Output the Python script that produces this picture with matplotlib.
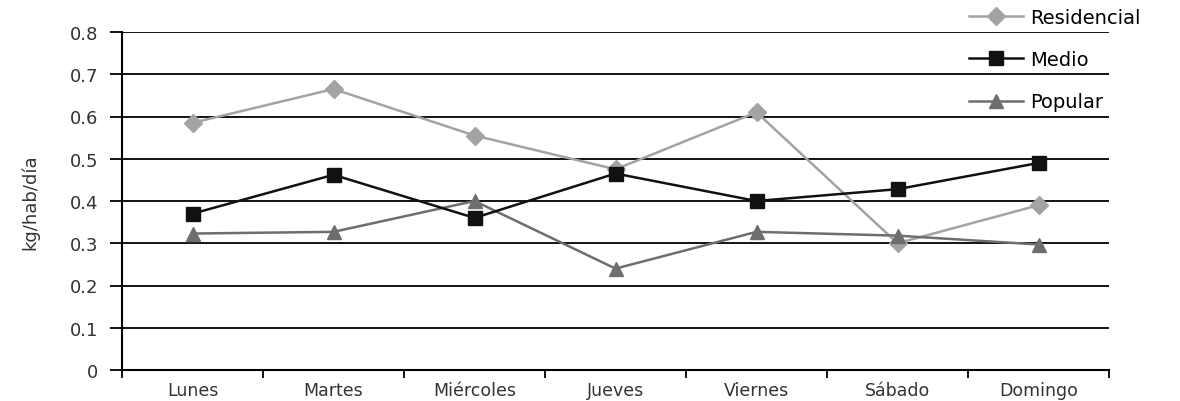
# Generación de residuos por día y estrato
import numpy as np
import matplotlib
matplotlib.use('Agg')
import matplotlib.pyplot as plt
from matplotlib.ticker import FixedLocator, NullFormatter

# datos
dias = ['Lunes', 'Martes', 'Miércoles', 'Jueves', 'Viernes', 'Sábado', 'Domingo']
residencial = [0.585, 0.665, 0.555, 0.475, 0.61, 0.30, 0.39]
medio = [0.37, 0.462, 0.36, 0.465, 0.40, 0.428, 0.49]
popular = [0.323, 0.327, 0.40, 0.24, 0.327, 0.318, 0.297]
yticks = [0, 0.1, 0.2, 0.3, 0.4, 0.5, 0.6, 0.7, 0.8]

plt.rcParams['font.family'] = ['DejaVu Sans']

fig = plt.figure(figsize=(11.8, 4.02), dpi=100)
ax = fig.add_axes([122/1180, 1-371/402, (1109-122)/1180, (371-33)/402])

x = np.arange(len(dias))
ax.plot(x, residencial, color='#a3a3a3', lw=1.8, marker='D', ms=9,
        label='Residencial', zorder=3)
ax.plot(x, medio, color='#111111', lw=1.8, marker='s', ms=10,
        label='Medio', zorder=4)
ax.plot(x, popular, color='#6e6e6e', lw=1.8, marker='^', ms=10,
        label='Popular', zorder=3)

ax.set_xlim(-0.5, len(dias) - 0.5)
ax.set_ylim(0, 0.8)

# lineas horizontales
for v in yticks[1:]:
    ax.axhline(v, color='black', lw=1.3, zorder=1)

ax.set_yticks(yticks)
ax.set_yticklabels([('%g' % v) for v in yticks], fontsize=13, color='#333333')
ax.tick_params(axis='y', length=9, width=1.3, direction='out', pad=8)

ax.set_xticks(x)
ax.set_xticklabels(dias, fontsize=12.5, color='#333333')
ax.tick_params(axis='x', which='major', length=0, pad=8)
ax.xaxis.set_minor_locator(FixedLocator(np.arange(-0.5, len(dias), 1.0)))
ax.xaxis.set_minor_formatter(NullFormatter())
ax.tick_params(axis='x', which='minor', length=6, width=1.3, direction='out')

for s in ['top', 'right']:
    ax.spines[s].set_visible(False)
for s in ['left', 'bottom']:
    ax.spines[s].set_linewidth(1.5)

ax.set_ylabel('kg/hab/día', fontsize=13, color='#333333', labelpad=22)

fig.legend(loc='upper left', bbox_to_anchor=(960/1180, 1.0), frameon=False,
           fontsize=14, handlelength=2.8, handletextpad=0.35, labelspacing=1.2,
           borderaxespad=0.05)

fig.savefig('out.png', dpi=100, facecolor='white')
